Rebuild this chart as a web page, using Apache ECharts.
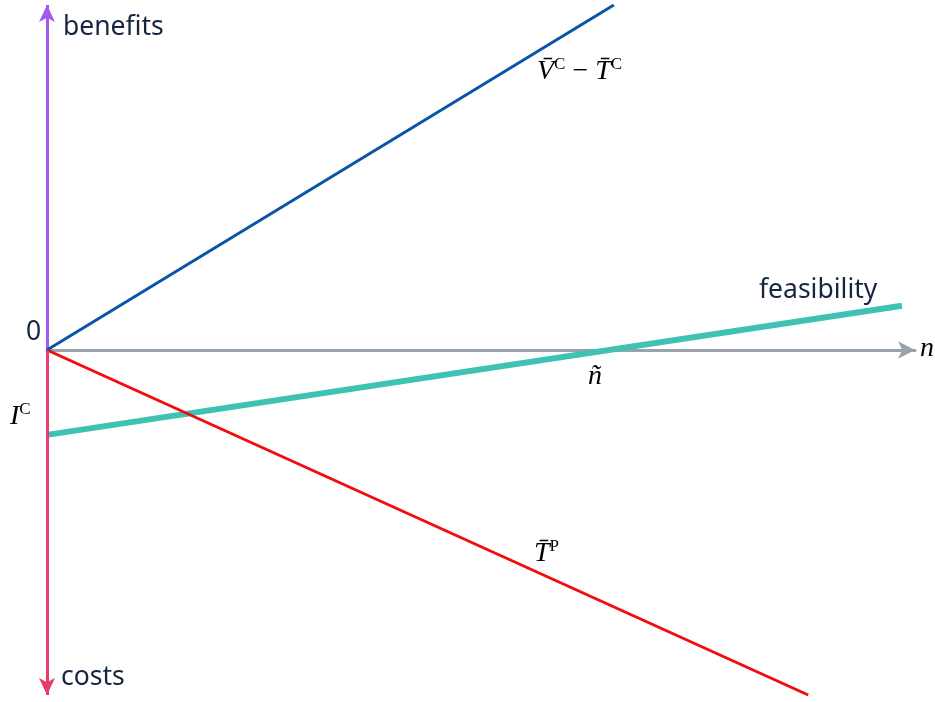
<!DOCTYPE html>
<html>
<head>
<meta charset="utf-8">
<script src="https://cdn.jsdelivr.net/npm/echarts@6/dist/echarts.min.js"></script>
<style>
  html, body { margin: 0; padding: 0; background: #fff; }
  #chart { width: 935px; height: 702px; }
</style>
</head>
<body>
<div id="chart"></div>
<script>
// 成本收益示意图
var benefitX = [0, 6.53];
var benefitY = [0, 10.0];
var costX = [0, 8.77];
var costY = [0, -10.0];
var feasX = [0, 9.85];
var feasY = [-2.46, 1.28];
var nRange = [0, 10];
var valueRange = [-10, 10];

var ink = '#16263f';
var sans = "'Noto Sans', 'Open Sans', sans-serif";
var serif = "'Liberation Serif', 'DejaVu Serif', serif";

function pairs(xs, ys) {
  return xs.map(function (x, i) { return [x, ys[i]]; });
}

var chart = echarts.init(document.getElementById('chart'), null, { renderer: 'canvas' });

var mathRich = {
  m: { fontFamily: serif, fontStyle: 'italic', fontSize: 28, color: ink, lineHeight: 32 },
  o: { fontFamily: serif, fontSize: 28, color: ink, lineHeight: 32 },
  s: { fontFamily: serif, fontSize: 17, color: ink, verticalAlign: 'top', lineHeight: 32 }
};

function mathText(x, y, text) {
  return {
    type: 'text', left: x, top: y, z: 10,
    style: { text: text, rich: mathRich }
  };
}

function plainText(x, y, text) {
  return {
    type: 'text', left: x, top: y, z: 10,
    style: { text: text, fontFamily: sans, fontSize: 26.5, fill: ink }
  };
}

chart.setOption({
  animation: false,
  grid: { left: 47, right: 20, top: 5, bottom: 7 },
  xAxis: {
    type: 'value',
    min: nRange[0],
    max: nRange[1],
    axisLine: {
      show: true,
      onZero: true,
      symbol: ['none', 'arrow'],
      symbolSize: [13, 17],
      lineStyle: { color: '#9aa2ab', width: 3 }
    },
    axisTick: { show: false },
    axisLabel: { show: false },
    splitLine: { show: false }
  },
  yAxis: {
    type: 'value',
    min: valueRange[0],
    max: valueRange[1],
    axisLine: { show: false },
    axisTick: { show: false },
    axisLabel: { show: false },
    splitLine: { show: false }
  },
  series: [
    {
      name: 'feasibility',
      type: 'line',
      symbol: 'none',
      z: 3,
      lineStyle: { color: '#3fc2b4', width: 6 },
      data: pairs(feasX, feasY)
    },
    {
      name: 'costs',
      type: 'line',
      symbol: 'none',
      z: 4,
      lineStyle: { color: '#f20d0d', width: 3 },
      data: pairs(costX, costY)
    },
    {
      name: 'benefits',
      type: 'line',
      symbol: 'none',
      z: 5,
      lineStyle: { color: '#0b55a6', width: 3 },
      data: pairs(benefitX, benefitY)
    },
    {
      name: 'vertical axis',
      type: 'line',
      symbol: 'none',
      z: 6,
      data: [],
      markLine: {
        silent: true,
        animation: false,
        symbol: ['none', 'arrow'],
        symbolSize: [12, 17],
        label: { show: false },
        data: [
          [
            { coord: [0, 0], lineStyle: { color: '#a259f4', width: 3, type: 'solid' } },
            { coord: [0, valueRange[1]] }
          ],
          [
            { coord: [0, 0], lineStyle: { color: '#e63d6a', width: 3, type: 'solid' } },
            { coord: [0, valueRange[0]] }
          ]
        ]
      }
    }
  ],
  graphic: [
    plainText(63, 14, 'benefits'),
    plainText(61, 664, 'costs'),
    plainText(26, 319, '0'),
    plainText(759, 277, 'feasibility'),
    mathText(537, 56, '{m|V\u0304}{s|C}{o| \u2212 }{m|T\u0304}{s|C}'),
    mathText(10, 401, '{m|I}{s|C}'),
    mathText(588, 363, '{m|n\u0303}'),
    mathText(534, 538, '{m|T\u0304}{s|P}'),
    mathText(920, 335, '{m|n}')
  ]
});
</script>
</body>
</html>
